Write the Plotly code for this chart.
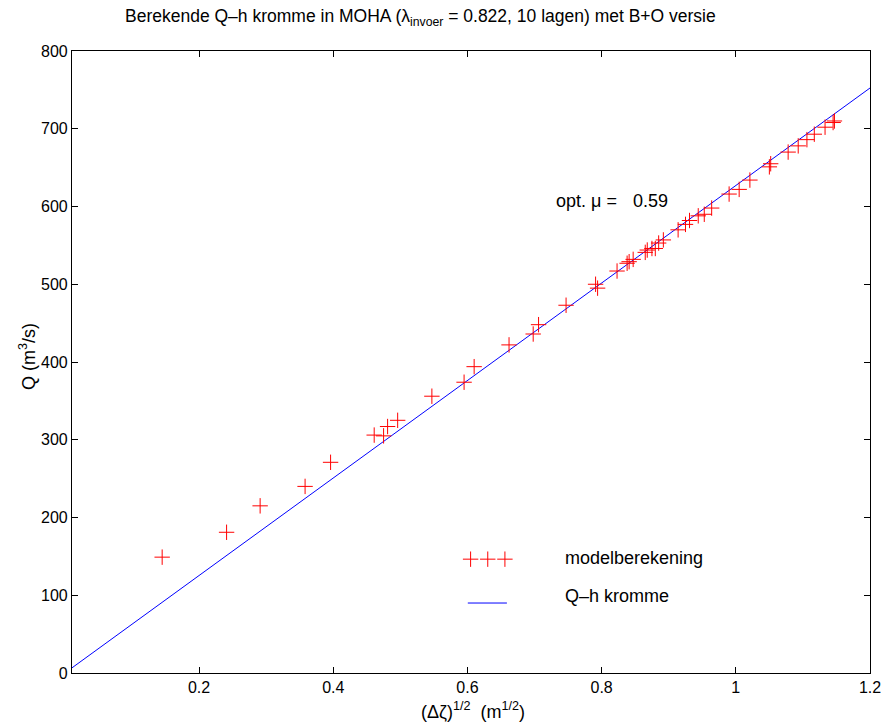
import plotly.graph_objects as go

# ---- data ----
dzeta_sqrt = [0.145, 0.241, 0.291, 0.358, 0.396, 0.461, 0.475, 0.481, 0.496, 0.547,
              0.595, 0.610, 0.662, 0.698, 0.706, 0.747, 0.791, 0.794, 0.823, 0.838,
              0.841, 0.847, 0.865, 0.868, 0.875, 0.880, 0.885, 0.892, 0.914, 0.925,
              0.931, 0.944, 0.953, 0.964, 0.990, 1.005, 1.021, 1.050, 1.052, 1.078,
              1.093, 1.106, 1.117, 1.133, 1.145, 1.147]
Q_model = [149, 181, 215, 240, 271, 306, 305, 317, 325, 356,
           374, 394, 422, 436, 448, 473, 500, 495, 517, 527,
           529, 532, 541, 544, 546, 546, 553, 557, 570, 577,
           582, 588, 590, 598, 616, 622, 634, 651, 655, 670,
           678, 686, 693, 702, 708, 710]

line_x = [0.01, 1.2]
qh_slope = 627.0          # Q = slope * sqrt(dzeta)
line_Q = [qh_slope * v for v in line_x]

x_ticks = [0.2, 0.4, 0.6, 0.8, 1.0, 1.2]
x_ticklabels = ["0.2", "0.4", "0.6", "0.8", "1", "1.2"]
y_ticks = [0, 100, 200, 300, 400, 500, 600, 700, 800]

FONT = "Liberation Sans, Arial, Helvetica, sans-serif"

fig = go.Figure()

fig.add_trace(go.Scatter(
    x=line_x, y=line_Q, mode="lines",
    line=dict(color="#0000ff", width=1), showlegend=False, hoverinfo="skip"))

fig.add_trace(go.Scatter(
    x=dzeta_sqrt, y=Q_model, mode="markers",
    marker=dict(symbol="cross-thin", size=11, line=dict(color="#ff0000", width=1)),
    showlegend=False))

# manual legend (MATLAB style) on an overlay axis in plot-fraction coordinates
fig.add_trace(go.Scatter(
    x=[0.4995, 0.521, 0.5425], y=[0.183, 0.183, 0.183], mode="markers",
    marker=dict(symbol="cross-thin", size=11, line=dict(color="#ff0000", width=1)),
    xaxis="x2", yaxis="y2", showlegend=False, hoverinfo="skip"))
fig.add_trace(go.Scatter(
    x=[0.496, 0.545], y=[0.1125, 0.1125], mode="lines",
    line=dict(color="#0000ff", width=1),
    xaxis="x2", yaxis="y2", showlegend=False, hoverinfo="skip"))

axis_common = dict(
    showline=True, linecolor="black", linewidth=1.2, mirror="ticks",
    ticks="inside", ticklen=6, tickcolor="black", tickwidth=1,
    showgrid=False, zeroline=False,
    tickfont=dict(family=FONT, size=16, color="black"))

fig.update_layout(
    width=894, height=726,
    margin=dict(l=72, r=24, t=51, b=53),
    plot_bgcolor="white", paper_bgcolor="white",
    xaxis=dict(range=[0.0106, 1.2], tickvals=x_ticks, ticktext=x_ticklabels, **axis_common),
    yaxis=dict(range=[0, 800], tickvals=y_ticks, **axis_common),
    xaxis2=dict(overlaying="x", range=[0, 1], visible=False),
    yaxis2=dict(overlaying="y", range=[0, 1], visible=False),
    font=dict(family=FONT, color="black"),
    showlegend=False,
)

ann = [
    dict(text="Berekende Q\u2013h kromme in MOHA (\u03bb<sub>invoer</sub> = 0.822, 10 lagen) met B+O versie",
         xref="paper", yref="paper", x=(420 - 72) / 798, y=1 + (51 - 18) / 622,
         xanchor="center", yanchor="middle", showarrow=False, font=dict(size=17.5)),
    dict(text="(\u0394\u03b6)<sup>1/2</sup>  (m<sup>1/2</sup>)",
         xref="paper", yref="paper", x=(473 - 72) / 798, y=-(710 - 673) / 622,
         xanchor="center", yanchor="middle", showarrow=False, font=dict(size=18)),
    dict(text="Q (m<sup>3</sup>/s)", textangle=-90,
         xref="paper", yref="paper", x=-(72 - 27) / 798, y=(673 - 357) / 622,
         xanchor="center", yanchor="middle", showarrow=False, font=dict(size=18)),
    dict(text="opt. \u03bc =", xref="paper", yref="paper",
         x=(554 - 72) / 798, y=(673 - 201) / 622, xanchor="left", yanchor="middle",
         showarrow=False, font=dict(size=18)),
    dict(text="0.59", xref="paper", yref="paper",
         x=(631 - 72) / 798, y=(673 - 201) / 622, xanchor="left", yanchor="middle",
         showarrow=False, font=dict(size=18)),
    dict(text="modelberekening", xref="paper", yref="paper",
         x=(563 - 72) / 798, y=(673 - 558) / 622, xanchor="left", yanchor="middle",
         showarrow=False, font=dict(size=18)),
    dict(text="Q\u2013h kromme", xref="paper", yref="paper",
         x=(563 - 72) / 798, y=(673 - 596) / 622, xanchor="left", yanchor="middle",
         showarrow=False, font=dict(size=18)),
]
fig.update_layout(annotations=ann)

fig.write_html("out.html")
